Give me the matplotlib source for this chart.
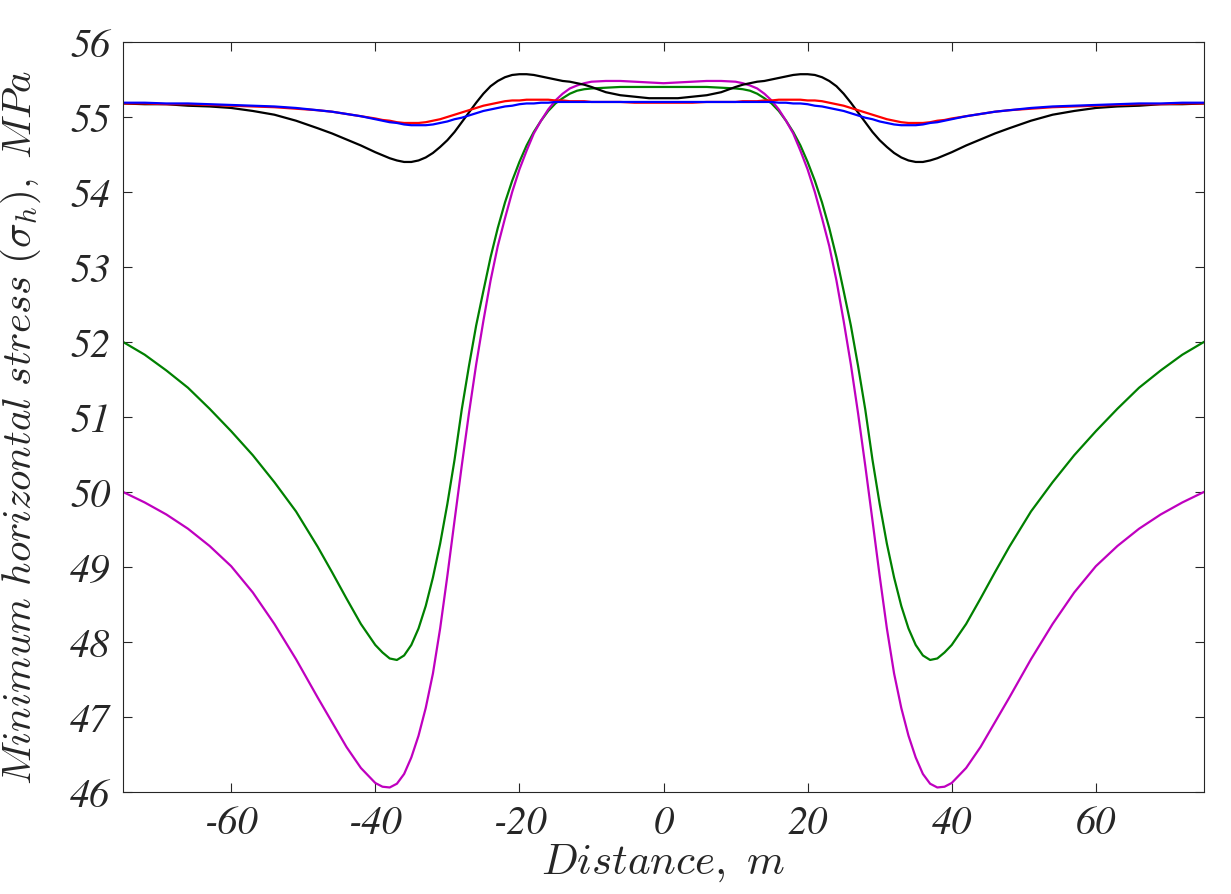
import numpy as np
import matplotlib
matplotlib.use("Agg")
import matplotlib.pyplot as plt

# distance along the profile, m
distance = [-75, -72, -69, -66, -63, -60, -57, -54, -51, -48, -46, -44, -42, -40,
            -39, -38, -37, -36, -35, -34, -33, -32, -31, -30, -29, -28, -27, -26, -25, -24,
            -23, -22, -21, -20, -19, -18, -17, -16, -15, -14, -13, -12, -11, -10, -8, -6, -4, -2,
            0,
            2, 4, 6, 8, 10, 11, 12, 13, 14, 15, 16, 17, 18, 19, 20, 21, 22, 23, 24, 25, 26, 27,
            28, 29, 30, 31, 32, 33, 34, 35, 36, 37, 38, 39,
            40, 42, 44, 46, 48, 51, 54, 57, 60, 63, 66, 69, 72, 75]

# minimum horizontal stress, MPa
stress_black = [55.18, 55.17, 55.17, 55.15, 55.14, 55.12, 55.08, 55.03, 54.95, 54.85, 54.78, 54.70, 54.62, 54.53,
                54.49, 54.45, 54.42, 54.40, 54.40, 54.42, 54.46, 54.52, 54.60, 54.69, 54.80, 54.93, 55.06, 55.19,
                55.31, 55.41, 55.48, 55.53, 55.56, 55.57, 55.57, 55.56, 55.54, 55.52, 55.50, 55.48, 55.47, 55.45,
                55.43, 55.40, 55.33, 55.29, 55.27, 55.25,
                55.25,
                55.25, 55.27, 55.29, 55.33, 55.40, 55.43, 55.45, 55.47, 55.48, 55.50, 55.52, 55.54, 55.56, 55.57,
                55.57, 55.56, 55.53, 55.48, 55.41, 55.31, 55.19, 55.06, 54.93, 54.80, 54.69, 54.60, 54.52, 54.46,
                54.42, 54.40, 54.40, 54.42, 54.45, 54.49,
                54.53, 54.62, 54.70, 54.78, 54.85, 54.95, 55.03, 55.08, 55.12, 55.14, 55.15, 55.17, 55.17, 55.18]

stress_red = [55.18, 55.18, 55.17, 55.17, 55.16, 55.15, 55.14, 55.13, 55.11, 55.09, 55.07, 55.04, 55.01, 54.98,
              54.96, 54.95, 54.93, 54.92, 54.92, 54.92, 54.93, 54.95, 54.97, 55.00, 55.03, 55.06, 55.09, 55.12,
              55.15, 55.17, 55.19, 55.21, 55.22, 55.22, 55.23, 55.23, 55.23, 55.23, 55.22, 55.22, 55.21, 55.21,
              55.21, 55.20, 55.20, 55.20, 55.19, 55.19,
              55.19,
              55.19, 55.19, 55.20, 55.20, 55.20, 55.21, 55.21, 55.21, 55.22, 55.22, 55.23, 55.23, 55.23, 55.23,
              55.22, 55.22, 55.21, 55.19, 55.17, 55.15, 55.12, 55.09, 55.06, 55.03, 55.00, 54.97, 54.95, 54.93,
              54.92, 54.92, 54.92, 54.93, 54.95, 54.96,
              54.98, 55.01, 55.04, 55.07, 55.09, 55.11, 55.13, 55.14, 55.15, 55.16, 55.17, 55.17, 55.18, 55.18]

stress_blue = [55.19, 55.19, 55.18, 55.18, 55.17, 55.16, 55.15, 55.14, 55.12, 55.09, 55.07, 55.04, 55.01, 54.97,
               54.95, 54.93, 54.92, 54.90, 54.89, 54.89, 54.89, 54.90, 54.92, 54.94, 54.97, 54.99, 55.02, 55.05,
               55.08, 55.10, 55.12, 55.14, 55.15, 55.17, 55.18, 55.18, 55.19, 55.19, 55.20, 55.20, 55.20, 55.20,
               55.20, 55.20, 55.20, 55.20, 55.20, 55.20,
               55.20,
               55.20, 55.20, 55.20, 55.20, 55.20, 55.20, 55.20, 55.20, 55.20, 55.20, 55.19, 55.19, 55.18, 55.18,
               55.17, 55.15, 55.14, 55.12, 55.10, 55.08, 55.05, 55.02, 54.99, 54.97, 54.94, 54.92, 54.90, 54.89,
               54.89, 54.89, 54.90, 54.92, 54.93, 54.95,
               54.97, 55.01, 55.04, 55.07, 55.09, 55.12, 55.14, 55.15, 55.16, 55.17, 55.18, 55.18, 55.19, 55.19]

stress_green = [52.00, 51.83, 51.62, 51.39, 51.11, 50.81, 50.49, 50.13, 49.74, 49.27, 48.93, 48.58, 48.24, 47.96,
                47.86, 47.78, 47.76, 47.82, 47.96, 48.18, 48.48, 48.86, 49.31, 49.84, 50.43, 51.10, 51.68, 52.22,
                52.68, 53.13, 53.52, 53.86, 54.15, 54.40, 54.62, 54.80, 54.95, 55.08, 55.18, 55.25, 55.31, 55.35,
                55.37, 55.38, 55.39, 55.40, 55.40, 55.40,
                55.40,
                55.40, 55.40, 55.40, 55.39, 55.38, 55.37, 55.35, 55.31, 55.25, 55.18, 55.08, 54.95, 54.80, 54.62,
                54.40, 54.15, 53.86, 53.52, 53.13, 52.68, 52.22, 51.68, 51.10, 50.43, 49.84, 49.31, 48.86, 48.48,
                48.18, 47.96, 47.82, 47.76, 47.78, 47.86,
                47.96, 48.24, 48.58, 48.93, 49.27, 49.74, 50.13, 50.49, 50.81, 51.11, 51.39, 51.62, 51.83, 52.00]

stress_magenta = [50.00, 49.86, 49.70, 49.51, 49.28, 49.01, 48.66, 48.24, 47.77, 47.26, 46.93, 46.60, 46.32, 46.12,
                  46.07, 46.06, 46.11, 46.24, 46.46, 46.75, 47.12, 47.58, 48.18, 48.88, 49.62, 50.35, 51.05, 51.70,
                  52.28, 52.82, 53.28, 53.65, 54.00, 54.30, 54.55, 54.78, 54.95, 55.10, 55.22, 55.31, 55.38, 55.42,
                  55.45, 55.47, 55.48, 55.48, 55.47, 55.46,
                  55.45,
                  55.46, 55.47, 55.48, 55.48, 55.47, 55.45, 55.42, 55.38, 55.31, 55.22, 55.10, 54.95, 54.78, 54.55,
                  54.30, 54.00, 53.65, 53.28, 52.82, 52.28, 51.70, 51.05, 50.35, 49.62, 48.88, 48.18, 47.58, 47.12,
                  46.75, 46.46, 46.24, 46.11, 46.06, 46.07,
                  46.12, 46.32, 46.60, 46.93, 47.26, 47.77, 48.24, 48.66, 49.01, 49.28, 49.51, 49.70, 49.86, 50.00]

x_ticks = [-60, -40, -20, 0, 20, 40, 60]
y_ticks = [46, 47, 48, 49, 50, 51, 52, 53, 54, 55, 56]

plt.rcParams['mathtext.fontset'] = 'cm'
plt.rcParams['axes.unicode_minus'] = False

fig = plt.figure(figsize=(12.31, 8.95), dpi=100)
ax = fig.add_axes([0.1, 0.114, 0.878, 0.838])

lw = 1.6
ax.plot(distance, stress_green, color='#008000', lw=lw)
ax.plot(distance, stress_magenta, color='#bf00bf', lw=lw)
ax.plot(distance, stress_black, color='k', lw=lw)
ax.plot(distance, stress_red, color='r', lw=lw)
ax.plot(distance, stress_blue, color='b', lw=lw)

ax.set_xlim(-75, 75)
ax.set_ylim(46, 56)
ax.set_xticks(x_ticks)
ax.set_yticks(y_ticks)

dark = '#262626'
for s in ax.spines.values():
    s.set_color(dark)
    s.set_linewidth(0.8)
ax.tick_params(direction='in', length=6.5, width=0.8, color=dark, labelcolor=dark,
               top=True, right=True)
ax.tick_params(axis='x', pad=9)
ax.tick_params(axis='y', pad=9)
for lab in ax.get_xticklabels() + ax.get_yticklabels():
    lab.set_fontfamily('STIXGeneral')
    lab.set_fontstyle('italic')
    lab.set_fontsize(29)

ax.set_xlabel(r'$Distance,\ m$', fontsize=31, color=dark)
ax.set_ylabel(r'$Minimum\ horizontal\ stress\ (\sigma_h),\ MPa$', fontsize=29.5, color=dark)
ax.xaxis.set_label_coords(0.5, -0.066)
ax.yaxis.set_label_coords(-0.074, 0.488)

fig.savefig('out.png', dpi=100)
